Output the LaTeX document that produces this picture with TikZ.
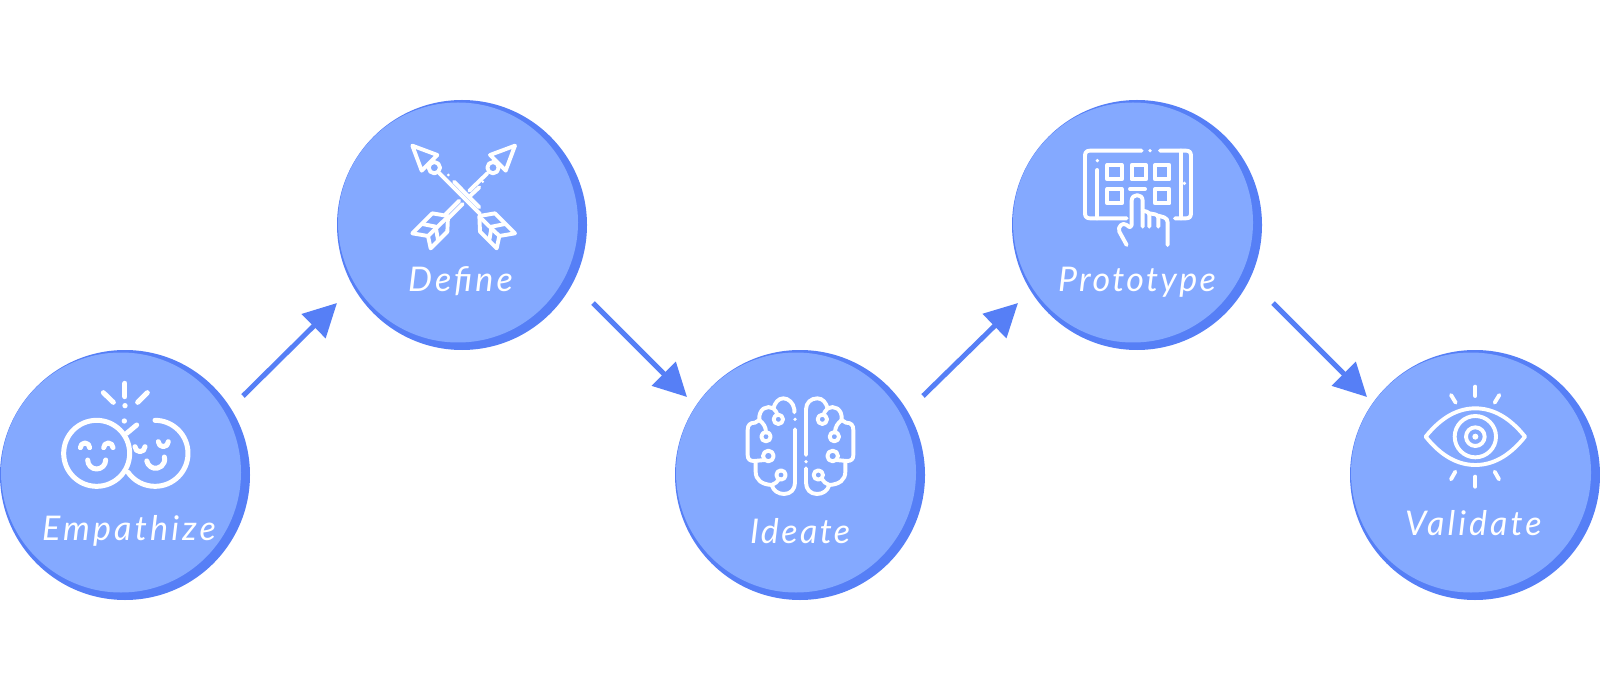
\documentclass[tikz,border=0pt]{standalone}
\usepackage{fontspec}
\usetikzlibrary{arrows.meta}
\newfontfamily\handfont{Lato}
\definecolor{deepblue}{HTML}{567FF6}
\definecolor{softblue}{HTML}{84A9FF}
\tikzset{
  x=1pt,y=-1pt,
  basedisc/.style={circle,fill=deepblue,minimum size=250pt,inner sep=0pt,outer sep=0pt},
  topdisc/.style={circle,fill=softblue,minimum size=240pt,inner sep=0pt,outer sep=0pt},
  flow/.style={draw=deepblue,line width=5pt,-{Triangle[length=33pt,width=33pt]},shorten >=0pt},
  icon/.style={draw=white,line width=#1,line cap=round,line join=round},
  icon/.default=3.9pt,
  word/.style={anchor=base west,text=white,inner sep=0pt,outer sep=0pt},
}
\newcommand\handword[2]{{\handfont\itshape\fontsize{34}{38}\selectfont\addfontfeature{LetterSpace=#1}#2}}
\newcommand\ring[4][3.9pt]{\draw[icon=#1] (#2,#3) circle[radius=#4];}
\newcommand\spot[3]{\fill[white] (#1,#2) circle[radius=#3];}
\newcommand\iarc[6][3.9pt]{\draw[icon=#1] (#2,#3) ++(#5:#4) arc[start angle=#5,end angle=#6,radius=#4];}
\begin{document}
\begin{tikzpicture}
\useasboundingbox (0,0) rectangle (1600,700);
% discs
\node[basedisc] (empathize) at (125,475) {};
\node[basedisc] (define) at (462,225) {};
\node[basedisc] (ideate) at (800,475) {};
\node[basedisc] (prototype) at (1137,225) {};
\node[basedisc] (validate) at (1475,475) {};
\node[topdisc] (empathizetop) at (121,472.5) {};
\node[topdisc] (definetop) at (458,222.5) {};
\node[topdisc] (ideatetop) at (796,472.5) {};
\node[topdisc] (prototypetop) at (1133,222.5) {};
\node[topdisc] (validatetop) at (1471,472.5) {};
% connectors
\coordinate (a1s) at (243,396); \coordinate (a1e) at (337,303);
\coordinate (a2s) at (593,303); \coordinate (a2e) at (687,397);
\coordinate (a3s) at (923,396); \coordinate (a3e) at (1018,303);
\coordinate (a4s) at (1273,303); \coordinate (a4e) at (1367,397);
\draw[flow] (a1s) -- (a1e);
\draw[flow] (a2s) -- (a2e);
\draw[flow] (a3s) -- (a3e);
\draw[flow] (a4s) -- (a4e);
% labels
\node[word] (t1) at (42,540) {\handword{9.5}{Empathize}};
\node[word] (t2) at (408,292) {\handword{9}{Define}};
\node[word] (t3) at (750,543) {\handword{7}{Ideate}};
\node[word] (t4) at (1058,292) {\handword{7}{Prototype}};
\node[word] (t5) at (1405,535) {\handword{9}{Validate}};
% Empathize icon
\begin{scope}[shift={(0,340)},scale=1/3]
  \ring[5pt]{290}{340}{99}
  \iarc[5pt]{465}{340}{99}{-90}{145}
  \draw[icon=5pt] (375,130) -- (375,170);
  \draw[icon=5pt] (310,158) -- (340,187);
  \draw[icon=5pt] (442,158) -- (413,187);
  \draw[icon=5pt] (410,255) -- (380,280);
  \spot{375}{197}{8}
  \spot{373}{243}{8}
  \iarc[5pt]{255}{323}{14}{180}{360}
  \iarc[5pt]{325}{323}{14}{180}{360}
  \iarc[5pt]{290}{360}{27}{180}{0}
  \iarc[5pt]{420}{320}{15}{180}{0}
  \iarc[5pt]{490}{305}{15}{180}{0}
  \iarc[5pt]{467}{358}{27}{170}{-15}
\end{scope}
% Define icon
\begin{scope}[shift={(380,130)},scale=1/3]
  \foreach \mir/\off in {1/0,-1/502}{
  \begin{scope}[xshift=\off,xscale=\mir]
    \draw[icon] (97,47) -- (172,75) -- (125,122) -- cycle;
    \ring{163}{113}{17}
    \draw[icon] (298,258) -- (345,250) -- (405,310) -- (358,318) -- (350,355) -- (300,305) -- cycle;
    \draw[icon] (300,262) -- (358,318);
    \draw[icon] (375,282) -- (335,290) -- (328,330);
  \end{scope}}
  \draw[icon] (178,130) -- (300,252);
  \draw[icon] (222,155) -- (298,232);
  \spot{205}{135}{4.5}
  \spot{308}{155}{4.5}
  \draw[icon] (322,130) -- (268,182);
  \draw[icon] (298,172) -- (270,198);
  \draw[icon] (238,212) -- (196,254);
  \draw[icon] (248,222) -- (205,265);
\end{scope}
% Ideate icon
\begin{scope}[shift={(710,380)},scale=1/3]
  \foreach \mir/\off in {1/0,-1/543}{
  \begin{scope}[xshift=\off,xscale=\mir]
    \draw[icon] (190,85) .. controls (172,75) and (145,85) .. (148,120) -- (135,128) .. controls (120,128) and (113,135) .. (113,150) -- (113,225) .. controls (113,238) and (120,243) .. (132,243) -- (165,240);
    \draw[icon] (137,243) -- (137,275) .. controls (137,300) and (155,313) .. (185,315);
    \draw[icon] (148,120) .. controls (160,130) and (168,140) .. (168,158);
    \draw[icon] (190,85) .. controls (198,92) and (200,98) .. (203,106);
    \draw[icon] (185,315) .. controls (195,312) and (203,305) .. (208,296);
  \end{scope}}
  \draw[icon] (253,97) -- (253,88) .. controls (250,68) and (235,55) .. (220,55) .. controls (205,55) and (195,68) .. (190,85);
  \draw[icon] (185,315) .. controls (190,332) and (205,342) .. (222,342) .. controls (242,342) and (255,328) .. (255,308) -- (255,148);
  \draw[icon] (288,225) -- (288,88) .. controls (288,68) and (303,55) .. (322,55) .. controls (338,55) and (348,68) .. (353,85);
  \draw[icon] (288,265) -- (288,308) .. controls (288,328) and (301,342) .. (321,342) .. controls (338,342) and (353,332) .. (358,315);
  \ring{205}{118}{14}
  \ring{168}{170}{14}
  \ring{175}{228}{16}
  \ring{213}{285}{14}
  \ring{337}{118}{14}
  \ring{373}{170}{14}
  \ring{368}{228}{16}
  \ring{325}{285}{14}
  \spot{255}{118}{5.5}
  \spot{288}{245}{5.5}
\end{scope}
% Prototype icon
\begin{scope}[shift={(1030,130)},scale=1/3]
  \draw[icon] (335,62) -- (180,62) .. controls (170,62) and (165,67) .. (165,77) -- (165,250) .. controls (165,260) and (170,265) .. (180,265) -- (290,265);
  \draw[icon] (390,62) -- (468,62) .. controls (478,62) and (483,67) .. (483,77) -- (483,250) .. controls (483,260) and (478,265) .. (468,265) -- (435,265);
  \spot{360}{62}{5.5}
  \spot{202}{92}{5.5}
  \spot{463}{160}{5.5}
  \draw[icon] (202,120) -- (202,265);
  \draw[icon] (452,62) -- (452,265);
  \draw[icon] (232,105) rectangle (275,148);
  \draw[icon] (305,105) rectangle (348,148);
  \draw[icon] (375,105) rectangle (418,148);
  \draw[icon] (232,177) rectangle (275,220);
  \draw[icon] (375,177) rectangle (418,220);
  \draw[icon] (300,177) -- (345,177);
  \draw[icon] (290,345) -- (268,305) .. controls (262,290) and (278,275) .. (290,285) .. controls (296,290) and (300,296) .. (305,285) -- (305,212) .. controls (305,190) and (338,190) .. (338,212) -- (338,290);
  \draw[icon] (338,242) -- (350,245) .. controls (355,246) and (358,250) .. (358,256) -- (358,290);
  \draw[icon] (358,250) -- (375,253) .. controls (382,254) and (385,258) .. (385,264) -- (385,290);
  \draw[icon] (385,257) -- (402,262) .. controls (410,265) and (413,270) .. (413,278) -- (413,345);
\end{scope}
% Validate icon
\begin{scope}[shift={(1370,370)},scale=1/3]
  \draw[icon] (167,200) .. controls (215,140) and (265,115) .. (316,115) .. controls (367,115) and (417,140) .. (465,200) .. controls (417,260) and (367,285) .. (316,285) .. controls (265,285) and (215,260) .. (167,200) -- cycle;
  \ring{316}{200}{62}
  \ring{316}{200}{28}
  \spot{316}{200}{9}
  \draw[icon] (316,50) -- (316,78);
  \draw[icon] (243,75) -- (257,98);
  \draw[icon] (388,75) -- (374,98);
  \draw[icon] (316,320) -- (316,350);
  \draw[icon] (256,305) -- (243,328);
  \draw[icon] (374,305) -- (387,328);
\end{scope}
\end{tikzpicture}
\end{document}
